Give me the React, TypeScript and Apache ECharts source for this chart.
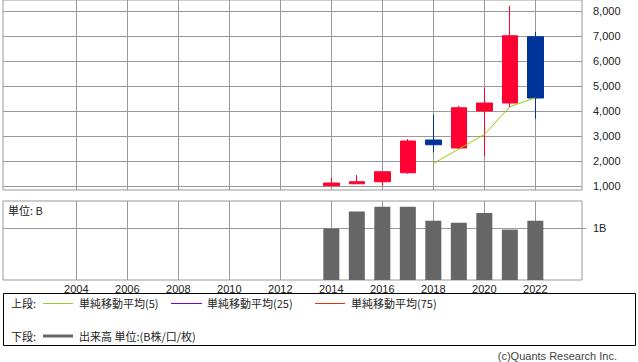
import React, { useEffect, useRef } from 'react';
import * as echarts from 'echarts';

const years = [2014, 2015, 2016, 2017, 2018, 2019, 2020, 2021, 2022];
const openVals = [1010, 1090, 1170, 1530, 2840, 2520, 4000, 4320, 6970];
const closeVals = [1120, 1170, 1570, 2800, 2650, 4130, 4320, 7010, 4520];
const lowVals = [1000, 1070, 1010, 1490, 2350, 2480, 2200, 4150, 3690];
const highVals = [1330, 1440, 1570, 2880, 3850, 4200, 4930, 8210, 7160];
const ma5Years = [2018, 2019, 2020, 2021, 2022];
const ma5Vals = [1900, 2480, 3060, 4170, 4530];
const volumeVals = [0.99, 1.32, 1.41, 1.41, 1.14, 1.1, 1.29, 0.97, 1.14];
const yearTicks = [2004, 2006, 2008, 2010, 2012, 2014, 2016, 2018, 2020, 2022];
const priceTicks = [1000, 2000, 3000, 4000, 5000, 6000, 7000, 8000];
const volumeTicks = [1];

const UP = '#ff0033';
const DOWN = '#003399';
const GRIDC = '#999999';
const LATIN = 'Liberation Sans';
const CJK = '"Noto Sans CJK JP", "Liberation Sans"';

export default function App() {
  const ref = useRef<HTMLDivElement>(null);
  useEffect(() => {
    if (!ref.current) return;
    const chart = echarts.init(ref.current, undefined, { renderer: 'svg' });
    const xMin = 2001.125;
    const xMax = 2023.83;
    const candleData = years.map((y, i) => ({
      value: [y, openVals[i], closeVals[i], lowVals[i], highVals[i]],
    }));
    const option: any = {
      animation: false,
      grid: [
        { left: 3, top: 0, width: 579, height: 190, show: true, borderColor: GRIDC, borderWidth: 1, backgroundColor: 'transparent' },
        { left: 3, top: 201, width: 579, height: 79, show: true, borderColor: GRIDC, borderWidth: 1, backgroundColor: 'transparent' },
      ],
      xAxis: [
        {
          type: 'value', gridIndex: 0, min: xMin, max: xMax,
          axisLine: { show: false },
          axisTick: { show: false, customValues: yearTicks },
          axisLabel: { show: false, customValues: yearTicks },
          splitLine: { show: true, lineStyle: { color: GRIDC, width: 1 } },
        },
        {
          type: 'value', gridIndex: 1, min: xMin, max: xMax,
          axisLine: { show: false },
          axisTick: { show: false, customValues: yearTicks },
          axisLabel: {
            show: true, customValues: yearTicks, margin: 3,
            fontFamily: LATIN, fontSize: 11, color: '#222',
            formatter: (v: number) => String(Math.round(v)),
          },
          splitLine: { show: true, lineStyle: { color: GRIDC, width: 1 } },
        },
      ],
      yAxis: [
        {
          type: 'value', gridIndex: 0, position: 'right', min: 840, max: 8440,
          axisLine: { show: false },
          axisTick: { show: false, customValues: priceTicks },
          axisLabel: {
            show: true, customValues: priceTicks, margin: 11,
            fontFamily: LATIN, fontSize: 11, color: '#222',
            formatter: (v: number) => Math.round(v).toLocaleString('en-US'),
          },
          splitLine: { show: true, lineStyle: { color: GRIDC, width: 1 } },
        },
        {
          type: 'value', gridIndex: 1, position: 'right', min: 0, max: 1.52,
          axisLine: { show: false },
          axisTick: { show: true, length: 4, inside: false, customValues: volumeTicks, lineStyle: { color: GRIDC } },
          axisLabel: {
            show: true, customValues: volumeTicks, margin: 11,
            fontFamily: LATIN, fontSize: 11, color: '#222',
            formatter: (v: number) => `${Math.round(v)}B`,
          },
          splitLine: { show: true, lineStyle: { color: GRIDC, width: 1 } },
        },
      ],
      series: [
        {
          type: 'candlestick', xAxisIndex: 0, yAxisIndex: 0,
          barWidth: 16,
          data: candleData,
          itemStyle: { color: UP, color0: DOWN, borderColor: UP, borderColor0: DOWN, borderWidth: 1 },
        },
        {
          type: 'line', xAxisIndex: 0, yAxisIndex: 0,
          data: ma5Years.map((y, i) => [y, ma5Vals[i]]),
          symbol: 'none',
          lineStyle: { color: '#99cc00', width: 1 },
        },
        {
          type: 'bar', xAxisIndex: 1, yAxisIndex: 1,
          barWidth: 16,
          data: years.map((y, i) => [y, volumeVals[i]]),
          itemStyle: { color: '#666666' },
        },
      ],
      graphic: [
        { type: 'text', left: 8, top: 204, style: { text: '単位: B', font: `11px ${CJK}`, fill: '#222' } },
        { type: 'rect', shape: { x: 3.5, y: 293.5, width: 632, height: 52 }, style: { fill: 'none', stroke: '#000', lineWidth: 1 } },
        { type: 'text', x: 11, y: 303, style: { text: '上段:', font: `11px ${CJK}`, fill: '#222', verticalAlign: 'middle' } },
        { type: 'line', shape: { x1: 43, y1: 303.5, x2: 73, y2: 303.5 }, style: { stroke: '#99cc33', lineWidth: 1 } },
        { type: 'text', x: 79, y: 303, style: { text: '単純移動平均(5)', font: `11px ${CJK}`, fill: '#222', verticalAlign: 'middle' } },
        { type: 'line', shape: { x1: 171, y1: 303.5, x2: 202, y2: 303.5 }, style: { stroke: '#7700cc', lineWidth: 1 } },
        { type: 'text', x: 207, y: 303, style: { text: '単純移動平均(25)', font: `11px ${CJK}`, fill: '#222', verticalAlign: 'middle' } },
        { type: 'line', shape: { x1: 315, y1: 303.5, x2: 345, y2: 303.5 }, style: { stroke: '#dd3311', lineWidth: 1 } },
        { type: 'text', x: 351, y: 303, style: { text: '単純移動平均(75)', font: `11px ${CJK}`, fill: '#222', verticalAlign: 'middle' } },
        { type: 'text', x: 11, y: 336, style: { text: '下段:', font: `11px ${CJK}`, fill: '#222', verticalAlign: 'middle' } },
        { type: 'rect', shape: { x: 43, y: 334.5, width: 30, height: 3 }, style: { fill: '#666666' } },
        { type: 'text', x: 79, y: 336, style: { text: '出来高 単位:(B株/口/枚)', font: `11px ${CJK}`, fill: '#222', verticalAlign: 'middle' } },
        { type: 'text', x: 617, y: 355.5, style: { text: '(c)Quants Research Inc.', font: `11px ${LATIN}`, fill: '#444', align: 'right', verticalAlign: 'middle' } },
      ],
    };
    chart.setOption(option);
    return () => chart.dispose();
  }, []);
  return <div ref={ref} style={{ position: 'absolute', left: 0, top: 0, width: 638, height: 362 }} />;
}
